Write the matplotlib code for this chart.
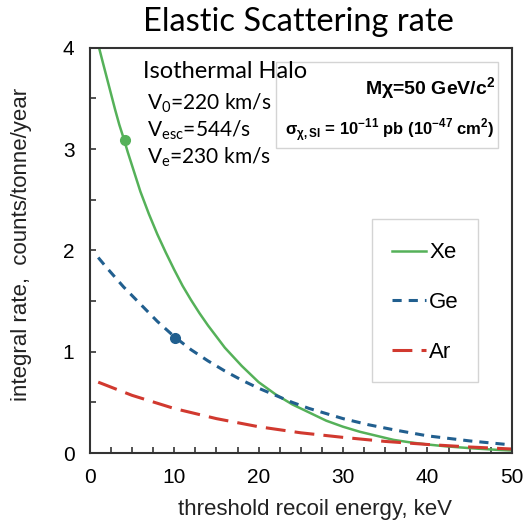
import matplotlib
matplotlib.use("Agg")
import matplotlib.pyplot as plt
from matplotlib.patches import Rectangle
from matplotlib.ticker import MultipleLocator

plt.rcParams["font.family"] = "Liberation Sans"
plt.rcParams["mathtext.fontset"] = "custom"
plt.rcParams["mathtext.rm"] = "Lato"
plt.rcParams["mathtext.bf"] = "Liberation Sans:bold"

xe_energy = [1.1, 1.5, 2, 2.5, 3, 3.5, 4, 4.5, 5, 5.5, 6, 6.5, 7, 7.5, 8, 9, 10, 11, 12, 13, 14, 15,
             16, 17, 18, 19, 20, 21, 22, 23, 24, 25, 26, 28, 30, 32, 34, 36, 38, 40, 42, 44, 46, 48, 50]
xe_rate = [4.0, 3.87, 3.71, 3.55, 3.39, 3.24, 3.11, 2.97, 2.84, 2.71, 2.58, 2.47, 2.36, 2.26, 2.16,
           1.98, 1.81, 1.65, 1.51, 1.38, 1.26, 1.15, 1.04, 0.95, 0.86, 0.78, 0.70, 0.64, 0.58, 0.53,
           0.48, 0.44, 0.40, 0.32, 0.26, 0.21, 0.17, 0.13, 0.105, 0.085, 0.068, 0.055, 0.043, 0.033,
           0.025]
ge_energy = [1, 2, 4, 6, 8, 10, 12, 14, 16, 18, 20, 22, 23, 24, 26, 28, 30, 33, 36, 40, 45, 50]
ge_rate = [1.93, 1.83, 1.64, 1.47, 1.30, 1.15, 1.02, 0.91, 0.81, 0.72, 0.64, 0.57, 0.535, 0.50, 0.44,
           0.39, 0.34, 0.28, 0.23, 0.17, 0.12, 0.08]
ar_energy = [1, 5, 10, 15, 20, 25, 30, 35, 40, 45, 50]
ar_rate = [0.70, 0.57, 0.44, 0.34, 0.26, 0.20, 0.155, 0.115, 0.085, 0.06, 0.04]

# highlighted points
xe_point = (4.15, 3.09)
ge_point = (10.15, 1.14)

green = "#55b159"
blue = "#215f8f"
red = "#d1392f"

fig = plt.figure(figsize=(5.25, 5.25), dpi=100)
ax = fig.add_axes([0.171, 0.137, 0.804, 0.772])

ax.plot(xe_energy, xe_rate, color=green, lw=1.8, label="Xe")
ax.plot(ge_energy, ge_rate, color=blue, lw=2.2, dashes=(3, 2.3), label="Ge")
ax.plot(ar_energy, ar_rate, color=red, lw=2.2, dashes=(6.5, 3), label="Ar")
ax.plot(*xe_point, "o", color=green, ms=7)
ax.plot(*ge_point, "o", color=blue, ms=7)

ax.set_xlim(0, 50)
ax.set_ylim(0, 4)
ax.xaxis.set_major_locator(MultipleLocator(10))
ax.xaxis.set_minor_locator(MultipleLocator(2.5))
ax.yaxis.set_major_locator(MultipleLocator(1))
ax.yaxis.set_minor_locator(MultipleLocator(0.5))
ax.tick_params(which="both", direction="in", length=4.5, width=1.2, color="#333333",
               labelsize=15, pad=11)
for s in ax.spines.values():
    s.set_linewidth(1.5)
    s.set_color("#333333")

ax.set_xlabel("threshold recoil energy, keV", fontsize=16, color="#222222")
ax.set_ylabel("integral rate,  counts/tonne/year", fontsize=16, color="#222222")
ax.xaxis.set_label_coords(0.533, -0.114)
ax.yaxis.set_label_coords(-0.137, 0.514)

# legend with its own light frame
ax.add_patch(Rectangle((0.668, 0.175), 0.251, 0.403, transform=ax.transAxes,
                       fill=False, ec="#d4d4d4", lw=1))
ax.legend(loc="upper left", bbox_to_anchor=(0.716, 0.52), frameon=False, fontsize=16,
          borderpad=0, borderaxespad=0, handlelength=1.55, handletextpad=0.12, labelspacing=1.3)

# parameter box
ax.add_patch(Rectangle((0.441, 0.753), 0.526, 0.212, transform=ax.transAxes,
                       fill=False, ec="#d4d4d4", lw=1))
fig.text(495 / 525, 1 - 89 / 525, "Mχ=50 GeV/c$^{\\mathbf{2}}$", fontsize=14, fontweight="bold",
         ha="right", va="center")
fig.text(495 / 525, 1 - 130 / 525,
         "σ$_{\\mathbf{χ,SI}}$ = 10$^{\\mathbf{-11}}$ pb (10$^{\\mathbf{-47}}$ cm$^{\\mathbf{2}}$)",
         fontsize=12, fontweight="bold", ha="right", va="center")

fig.text(143 / 525, 1 - 72 / 525, "Isothermal Halo", family="Lato", fontsize=17, va="center")
fig.text(147 / 525, 1 - 103 / 525, "V$_\\mathrm{0}$=220 km/s", family="Lato", fontsize=15, va="center")
fig.text(147 / 525, 1 - 130 / 525, "V$_\\mathrm{esc}$=544/s", family="Lato", fontsize=15, va="center")
fig.text(147 / 525, 1 - 157 / 525, "V$_\\mathrm{e}$=230 km/s", family="Lato", fontsize=15, va="center")

fig.text(298 / 525, 1 - 22 / 525, "Elastic Scattering rate", family="Lato", fontsize=23.5,
         ha="center", va="center")

fig.savefig("out.png", dpi=100)
